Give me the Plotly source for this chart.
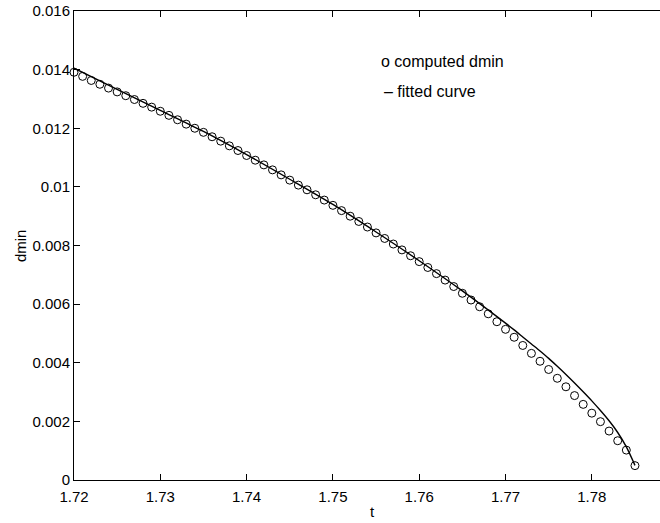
import plotly.graph_objects as go

# computed dmin (circles)
t_points = [1.720, 1.721, 1.722, 1.723, 1.724, 1.725, 1.726, 1.727, 1.728, 1.729,
            1.730, 1.731, 1.732, 1.733, 1.734, 1.735, 1.736, 1.737, 1.738, 1.739,
            1.740, 1.741, 1.742, 1.743, 1.744, 1.745, 1.746, 1.747, 1.748, 1.749,
            1.750, 1.751, 1.752, 1.753, 1.754, 1.755, 1.756, 1.757, 1.758, 1.759,
            1.760, 1.761, 1.762, 1.763, 1.764, 1.765, 1.766, 1.767, 1.768, 1.769,
            1.770, 1.771, 1.772, 1.773, 1.774, 1.775, 1.776, 1.777, 1.778, 1.779,
            1.780, 1.781, 1.782, 1.783, 1.784, 1.785]
dmin_points = [0.01391, 0.01377, 0.01363, 0.01350, 0.01337, 0.01324, 0.01311, 0.01298, 0.01285, 0.01272,
               0.01258, 0.01244, 0.01229, 0.01214, 0.01200, 0.01186, 0.01171, 0.01156, 0.01140, 0.01124,
               0.01107, 0.01091, 0.01075, 0.01058, 0.01041, 0.01023, 0.01006, 0.00990, 0.00973, 0.00955,
               0.00937, 0.00919, 0.00900, 0.00882, 0.00863, 0.00843, 0.00824, 0.00805, 0.00785, 0.00765,
               0.00745, 0.00725, 0.00704, 0.00682, 0.00660, 0.00637, 0.00614, 0.00591, 0.00567, 0.00540,
               0.00514, 0.00487, 0.00459, 0.00432, 0.00405, 0.00377, 0.00347, 0.00318, 0.00288, 0.00258,
               0.00228, 0.00199, 0.00167, 0.00134, 0.00102, 0.00049]

# fitted curve
t_fit = [1.720, 1.725, 1.730, 1.735, 1.740, 1.745, 1.750, 1.755, 1.760, 1.765,
         1.770, 1.771, 1.772, 1.773, 1.774, 1.775, 1.776, 1.777, 1.778, 1.779,
         1.780, 1.781, 1.782, 1.783, 1.784, 1.785]
dmin_fit = [0.01405, 0.01333, 0.01261, 0.01189, 0.01110, 0.01026, 0.00940, 0.00846, 0.00748, 0.00645,
            0.00535, 0.00512, 0.00488, 0.00464, 0.00440, 0.00415, 0.00388, 0.00360, 0.00331, 0.00301,
            0.00270, 0.00237, 0.00202, 0.00162, 0.00113, 0.00050]

x_tickvals = [1.72, 1.73, 1.74, 1.75, 1.76, 1.77, 1.78]
x_ticktext = ["1.72", "1.73", "1.74", "1.75", "1.76", "1.77", "1.78"]
y_tickvals = [0, 0.002, 0.004, 0.006, 0.008, 0.010, 0.012, 0.014, 0.016]
y_ticktext = ["0", "0.002", "0.004", "0.006", "0.008", "0.01", "0.012", "0.014", "0.016"]

FONT = "Liberation Sans, Arial, Helvetica, sans-serif"

fig = go.Figure()
fig.add_trace(go.Scatter(
    x=t_fit, y=dmin_fit, mode="lines",
    line=dict(color="black", width=1.4, shape="spline", smoothing=0.8),
    showlegend=False, hoverinfo="skip"))
fig.add_trace(go.Scatter(
    x=t_points, y=dmin_points, mode="markers",
    marker=dict(symbol="circle-open", size=8, color="black", line=dict(width=1, color="black")),
    showlegend=False, cliponaxis=False))

axis_common = dict(
    showgrid=False, zeroline=False, showline=True, linecolor="black", linewidth=1,
    ticks="inside", ticklen=6, tickwidth=1, tickcolor="black",
    tickfont=dict(family=FONT, size=15, color="black"),
)

fig.update_layout(
    width=660, height=523,
    margin=dict(l=73.5, r=0, t=11, b=43),
    paper_bgcolor="white", plot_bgcolor="white",
    font=dict(family=FONT, size=15, color="black"),
    xaxis=dict(range=[1.72, 1.7879], tickvals=x_tickvals, ticktext=x_ticktext,
               mirror="ticks", ticklabelstandoff=3, **axis_common),
    yaxis=dict(range=[0, 0.016], tickvals=y_tickvals, ticktext=y_ticktext,
               mirror=False, **axis_common),
    annotations=[
        dict(text="t", xref="paper", yref="paper", x=(372 - 73.5) / 586.5, y=(480 - 511.7) / 469,
             xanchor="center", yanchor="middle", showarrow=False,
             font=dict(family=FONT, size=15, color="black")),
        dict(text="dmin", xref="paper", yref="paper", x=(20 - 73.5) / 586.5, y=0.5,
             xanchor="center", yanchor="middle", textangle=-90, showarrow=False,
             font=dict(family=FONT, size=15, color="black")),
        dict(text="o computed dmin", xref="x", yref="y", x=1.7555, y=0.01427,
             xanchor="left", yanchor="middle", showarrow=False, borderpad=0,
             font=dict(family=FONT, size=16, color="black")),
        dict(text="– fitted curve", xref="x", yref="y", x=1.75585, y=0.01324,
             xanchor="left", yanchor="middle", showarrow=False, borderpad=0,
             font=dict(family=FONT, size=16, color="black")),
    ],
)

fig.write_html("out.html")
